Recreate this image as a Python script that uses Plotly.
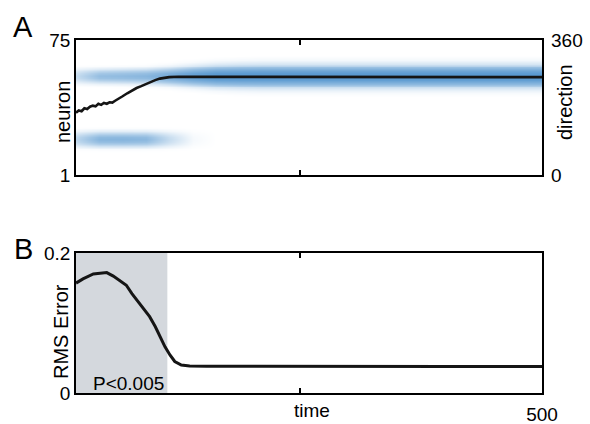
import numpy as np
import plotly.graph_objects as go

# ---------------- data ----------------
# Panel A: decoded direction (black line), in degrees
dir_time = [0, 3, 6, 9, 12, 15, 18, 21, 24, 27, 30, 33, 36, 39, 42, 45, 50, 55, 60, 65, 70, 75, 80,
            85, 90, 95, 100, 110, 120, 150, 200, 250, 300, 350, 400, 450, 500]
dir_value = [166, 172, 170, 178, 176, 182, 185, 183, 190, 187, 192, 190, 194, 193, 198, 202, 210, 218,
             226, 232, 237, 243, 248, 253, 257, 260, 261, 262, 262, 262, 261, 261, 261, 260, 260, 261, 261]

# Panel A: population activity bands (heatmap), read per time sample
band_time = [0, 25, 50, 75, 100, 125, 150, 175, 200, 225, 250, 275, 300, 325, 350, 375, 400, 425, 450, 475, 500]
upper_center = 55.3
upper_intensity = [0.3, 0.55, 0.58, 0.62, 0.72, 0.82, 0.88, 0.88, 0.88, 0.88, 0.88, 0.88, 0.88, 0.88,
                   0.88, 0.88, 0.88, 0.88, 0.88, 0.88, 0.88]
upper_width = [2.6, 2.6, 2.7, 2.8, 3.2, 3.7, 4.1, 4.3, 4.4, 4.4, 4.4, 4.4, 4.4, 4.4, 4.4, 4.4, 4.4, 4.4,
               4.4, 4.4, 4.4]
lower_center = 20.7
lower_intensity = [0.35, 0.62, 0.63, 0.6, 0.3, 0.05, 0, 0, 0, 0, 0, 0, 0, 0, 0, 0, 0, 0, 0, 0, 0]
lower_width = [2.8] * 21
profile_dist = [0, 0.5, 1.0, 1.5, 2.0, 2.5]
profile_weight = [1.0, 0.92, 0.65, 0.25, 0.06, 0.0]
neurons = list(range(1, 76))

# Panel B: RMS error
rms_time = [0, 7.5, 18.6, 25.7, 33, 40, 47, 54, 60, 67, 72, 79, 85, 90, 95.5, 101, 106, 113, 122,
            140, 200, 300, 400, 500]
rms_value = [0.157, 0.163, 0.170, 0.171, 0.172, 0.167, 0.160, 0.154, 0.142, 0.130, 0.121, 0.109,
             0.095, 0.080, 0.066, 0.054, 0.045, 0.040, 0.0386, 0.0383, 0.038, 0.038, 0.038, 0.038]
shade_end = 98

# tick labels
neuron_ticks = [1, 75]
dir_ticks = [0, 360]
rms_ticks = [0, 0.2]
rms_ticktext = ["0", "0.2"]
time_ticks = [240, 500]
time_ticktext = ["", "500"]

# ---------------- build heatmap field ----------------
nv = np.array(neurons, dtype=float)
z = np.zeros((len(neurons), len(band_time)))
for j in range(len(band_time)):
    du = np.abs(nv - upper_center) / upper_width[j]
    dl = np.abs(nv - lower_center) / lower_width[j]
    z[:, j] = upper_intensity[j] * np.interp(du, profile_dist, profile_weight) + \
        lower_intensity[j] * np.interp(dl, profile_dist, profile_weight)

W, H = 590, 424
def px(x):
    return x / W
def py(y):
    return 1 - y / H

FONT = "Liberation Sans, Arial, Helvetica, sans-serif"

fig = go.Figure()
fig.add_trace(go.Heatmap(x=band_time, y=neurons, z=z, zmin=0, zmax=1, zsmooth="best",
                         colorscale=[[0, "rgb(255,255,255)"], [1, "rgb(60,135,200)"]],
                         showscale=False, xaxis="x", yaxis="y", hoverinfo="skip"))
fig.add_trace(go.Scatter(x=dir_time, y=dir_value, mode="lines",
                         line=dict(color="#151515", width=2.6), xaxis="x", yaxis="y2",
                         showlegend=False))
fig.add_trace(go.Scatter(x=rms_time, y=rms_value, mode="lines",
                         line=dict(color="#151515", width=3), xaxis="x2", yaxis="y3",
                         showlegend=False))

xd = [px(76), px(542)]
ax_common = dict(showline=True, linecolor="black", linewidth=1.5, showgrid=False, zeroline=False,
                 automargin=False, tickfont=dict(family=FONT, size=19, color="black"))

fig.update_layout(
    width=W, height=H, autosize=False, margin=dict(l=0, r=0, t=0, b=0),
    paper_bgcolor="white", plot_bgcolor="white", showlegend=False,
    xaxis=dict(domain=xd, anchor="y", range=[0, 500], ticks="inside", tickvals=[240], ticklen=5,
               tickwidth=1.5, tickcolor="black", showticklabels=False, mirror="ticks", **ax_common),
    yaxis=dict(domain=[py(175), py(40)], anchor="x", range=[1, 75], tickvals=neuron_ticks,
               ticks="", mirror=True, **ax_common),
    yaxis2=dict(overlaying="y", side="right", anchor="x", range=[0, 360], tickvals=dir_ticks,
                ticks="", showline=False, showgrid=False, zeroline=False, ticklabelstandoff=8,
                automargin=False, tickfont=dict(family=FONT, size=19, color="black")),
    xaxis2=dict(domain=xd, anchor="y3", range=[0, 500], ticks="inside", tickvals=time_ticks,
                ticktext=time_ticktext, ticklen=5, tickwidth=1.5, tickcolor="black",
                mirror="ticks", ticklabelstandoff=3, **ax_common),
    yaxis3=dict(domain=[py(393), py(253)], anchor="x2", range=[0, 0.2], tickvals=rms_ticks,
                ticktext=rms_ticktext, ticks="", mirror=True, **ax_common),
)

fig.add_shape(type="rect", xref="x2", yref="y3", x0=0, x1=shade_end, y0=0, y1=0.2,
              fillcolor="#d4d8dd", line=dict(width=0), layer="below")

ann = [
    dict(text="A", x=px(23), y=py(27), size=29),
    dict(text="B", x=px(23), y=py(249), size=29),
    dict(text="neuron", x=px(63), y=py(112), size=20, angle=-90),
    dict(text="direction", x=px(565), y=py(102), size=20, angle=-90),
    dict(text="RMS Error", x=px(61), y=py(331), size=20, angle=-90),
    dict(text="time", x=px(312), y=py(410), size=19),
    dict(text="P<0.005", x=px(128), y=py(383), size=19),
]
for a in ann:
    fig.add_annotation(text=a["text"], x=a["x"], y=a["y"], xref="paper", yref="paper",
                       showarrow=False, textangle=a.get("angle", 0), xanchor="center",
                       yanchor="middle", font=dict(family=FONT, size=a["size"], color="black"))

fig.write_html("out.html")
